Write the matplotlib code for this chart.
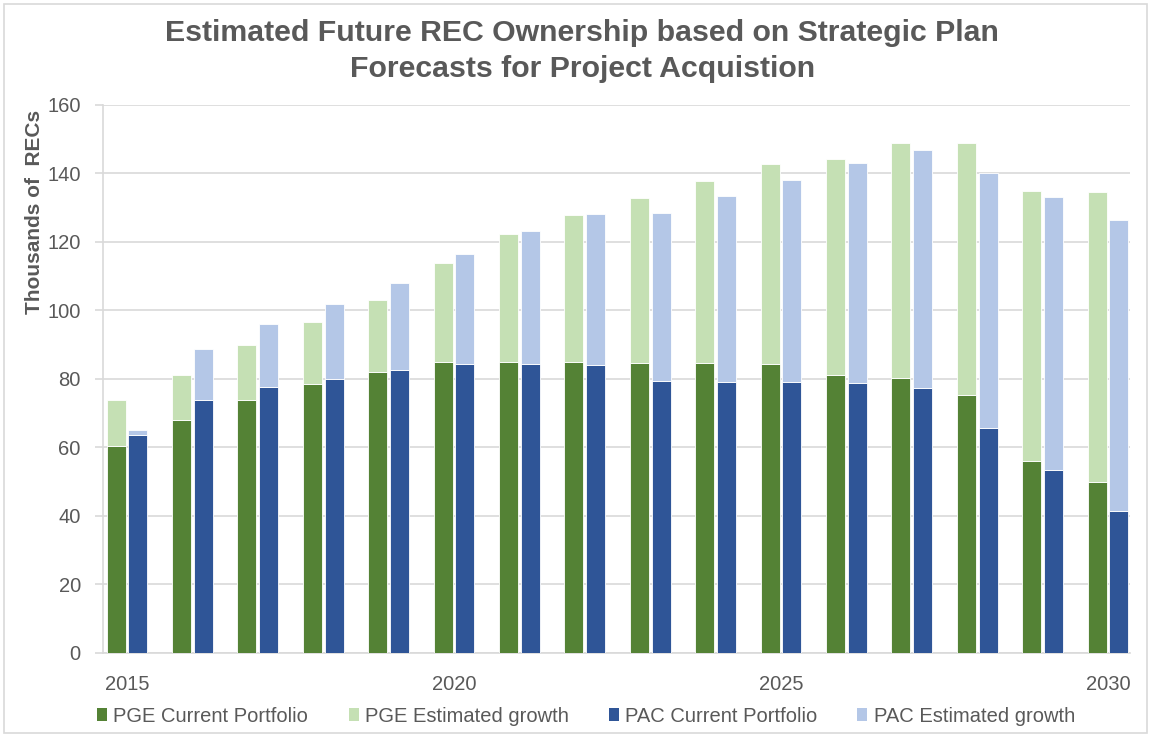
import numpy as np
import matplotlib
matplotlib.use("Agg")
from matplotlib import pyplot as plt
from matplotlib.patches import Patch, Rectangle

plt.rcParams['font.family'] = ['Liberation Sans', 'DejaVu Sans']

# dados (milhares de RECs)
anos = np.arange(2015, 2031)
pge_atual = [60.3, 67.9, 73.7, 78.4, 81.9, 84.9, 84.9, 84.9,
             84.6, 84.6, 84.2, 81.0, 80.2, 75.2, 55.9, 50.0]
pge_total = [73.9, 81.0, 89.7, 96.6, 102.9, 113.7, 122.1, 127.7,
             132.6, 137.6, 142.5, 144.1, 148.9, 148.9, 134.9, 134.6]
pac_atual = [63.6, 73.7, 77.7, 80.0, 82.6, 84.2, 84.2, 83.9,
             79.4, 79.0, 79.0, 78.7, 77.3, 65.6, 53.5, 41.5]
pac_total = [65.0, 88.6, 96.0, 101.8, 107.8, 116.3, 123.2, 128.1,
             128.4, 133.3, 138.1, 142.8, 146.7, 139.9, 133.0, 126.2]
rotulos_x = [2015, 2020, 2025, 2030]

pge_cresc = np.array(pge_total) - np.array(pge_atual)
pac_cresc = np.array(pac_total) - np.array(pac_atual)

cor_texto = '#595959'
cores = ['#548235', '#C5E0B4', '#2F5597', '#B4C7E7']
nomes = ['PGE Current Portfolio', 'PGE Estimated growth',
         'PAC Current Portfolio', 'PAC Estimated growth']

W, H = 1151, 736
fig = plt.figure(figsize=(W / 100, H / 100), dpi=100)
ax = fig.add_axes([103 / W, 1 - 653 / H, (1130 - 103) / W, (653 - 104.5) / H])

larg = 0.29
desl = 0.167
kw = dict(width=larg, edgecolor='white', linewidth=0.6, zorder=3)
ax.bar(anos - desl, pge_atual, color=cores[0], **kw)
ax.bar(anos - desl, pge_cresc, bottom=pge_atual, color=cores[1], **kw)
ax.bar(anos + desl, pac_atual, color=cores[2], **kw)
ax.bar(anos + desl, pac_cresc, bottom=pac_atual, color=cores[3], **kw)

ax.set_xlim(2015 - 0.367, 2030 + 0.336)
ax.set_ylim(0, 160)
ax.set_yticks(np.arange(0, 161, 20))
ax.set_xticks(rotulos_x)
ax.yaxis.grid(True, color='#D9D9D9', linewidth=1.2, zorder=0)
ax.set_axisbelow(True)

for lado in ['top', 'right']:
    ax.spines[lado].set_visible(False)
ax.spines['left'].set_color('#D9D9D9')
ax.spines['bottom'].set_color('#D9D9D9')
ax.spines['left'].set_linewidth(1.2)
ax.spines['bottom'].set_linewidth(1.2)

ax.tick_params(axis='y', length=6, color='#D9D9D9', width=1.2,
               labelsize=14.5, labelcolor=cor_texto, pad=10)
ax.tick_params(axis='x', length=0, labelsize=14.5, labelcolor=cor_texto, pad=16)

fig.text(0.506, 1 - 51 / H, 'Estimated Future REC Ownership based on Strategic Plan\n'
         'Forecasts for Project Acquistion', ha='center', va='center',
         fontsize=21.8, fontweight='bold', color=cor_texto, linespacing=1.38)
fig.text(35 / W, 1 - 212 / H, 'Thousands of  RECs', rotation=90, ha='center',
         va='center', fontsize=15, fontweight='bold', color=cor_texto)

alcas = [Patch(facecolor=c, edgecolor='none') for c in cores]
fig.legend(alcas, nomes, loc='center', bbox_to_anchor=(586 / W, 1 - 716 / H),
           ncol=4, frameon=False, fontsize=14.5, labelcolor=cor_texto,
           handlelength=0.5, handleheight=0.65, handletextpad=0.3,
           columnspacing=2.0)

fig.patches.append(Rectangle((4 / W, 3 / H), (W - 8) / W, (H - 7) / H,
                             transform=fig.transFigure, fill=False,
                             edgecolor='#D9D9D9', linewidth=1.2))

fig.savefig('out.png', dpi=100)
